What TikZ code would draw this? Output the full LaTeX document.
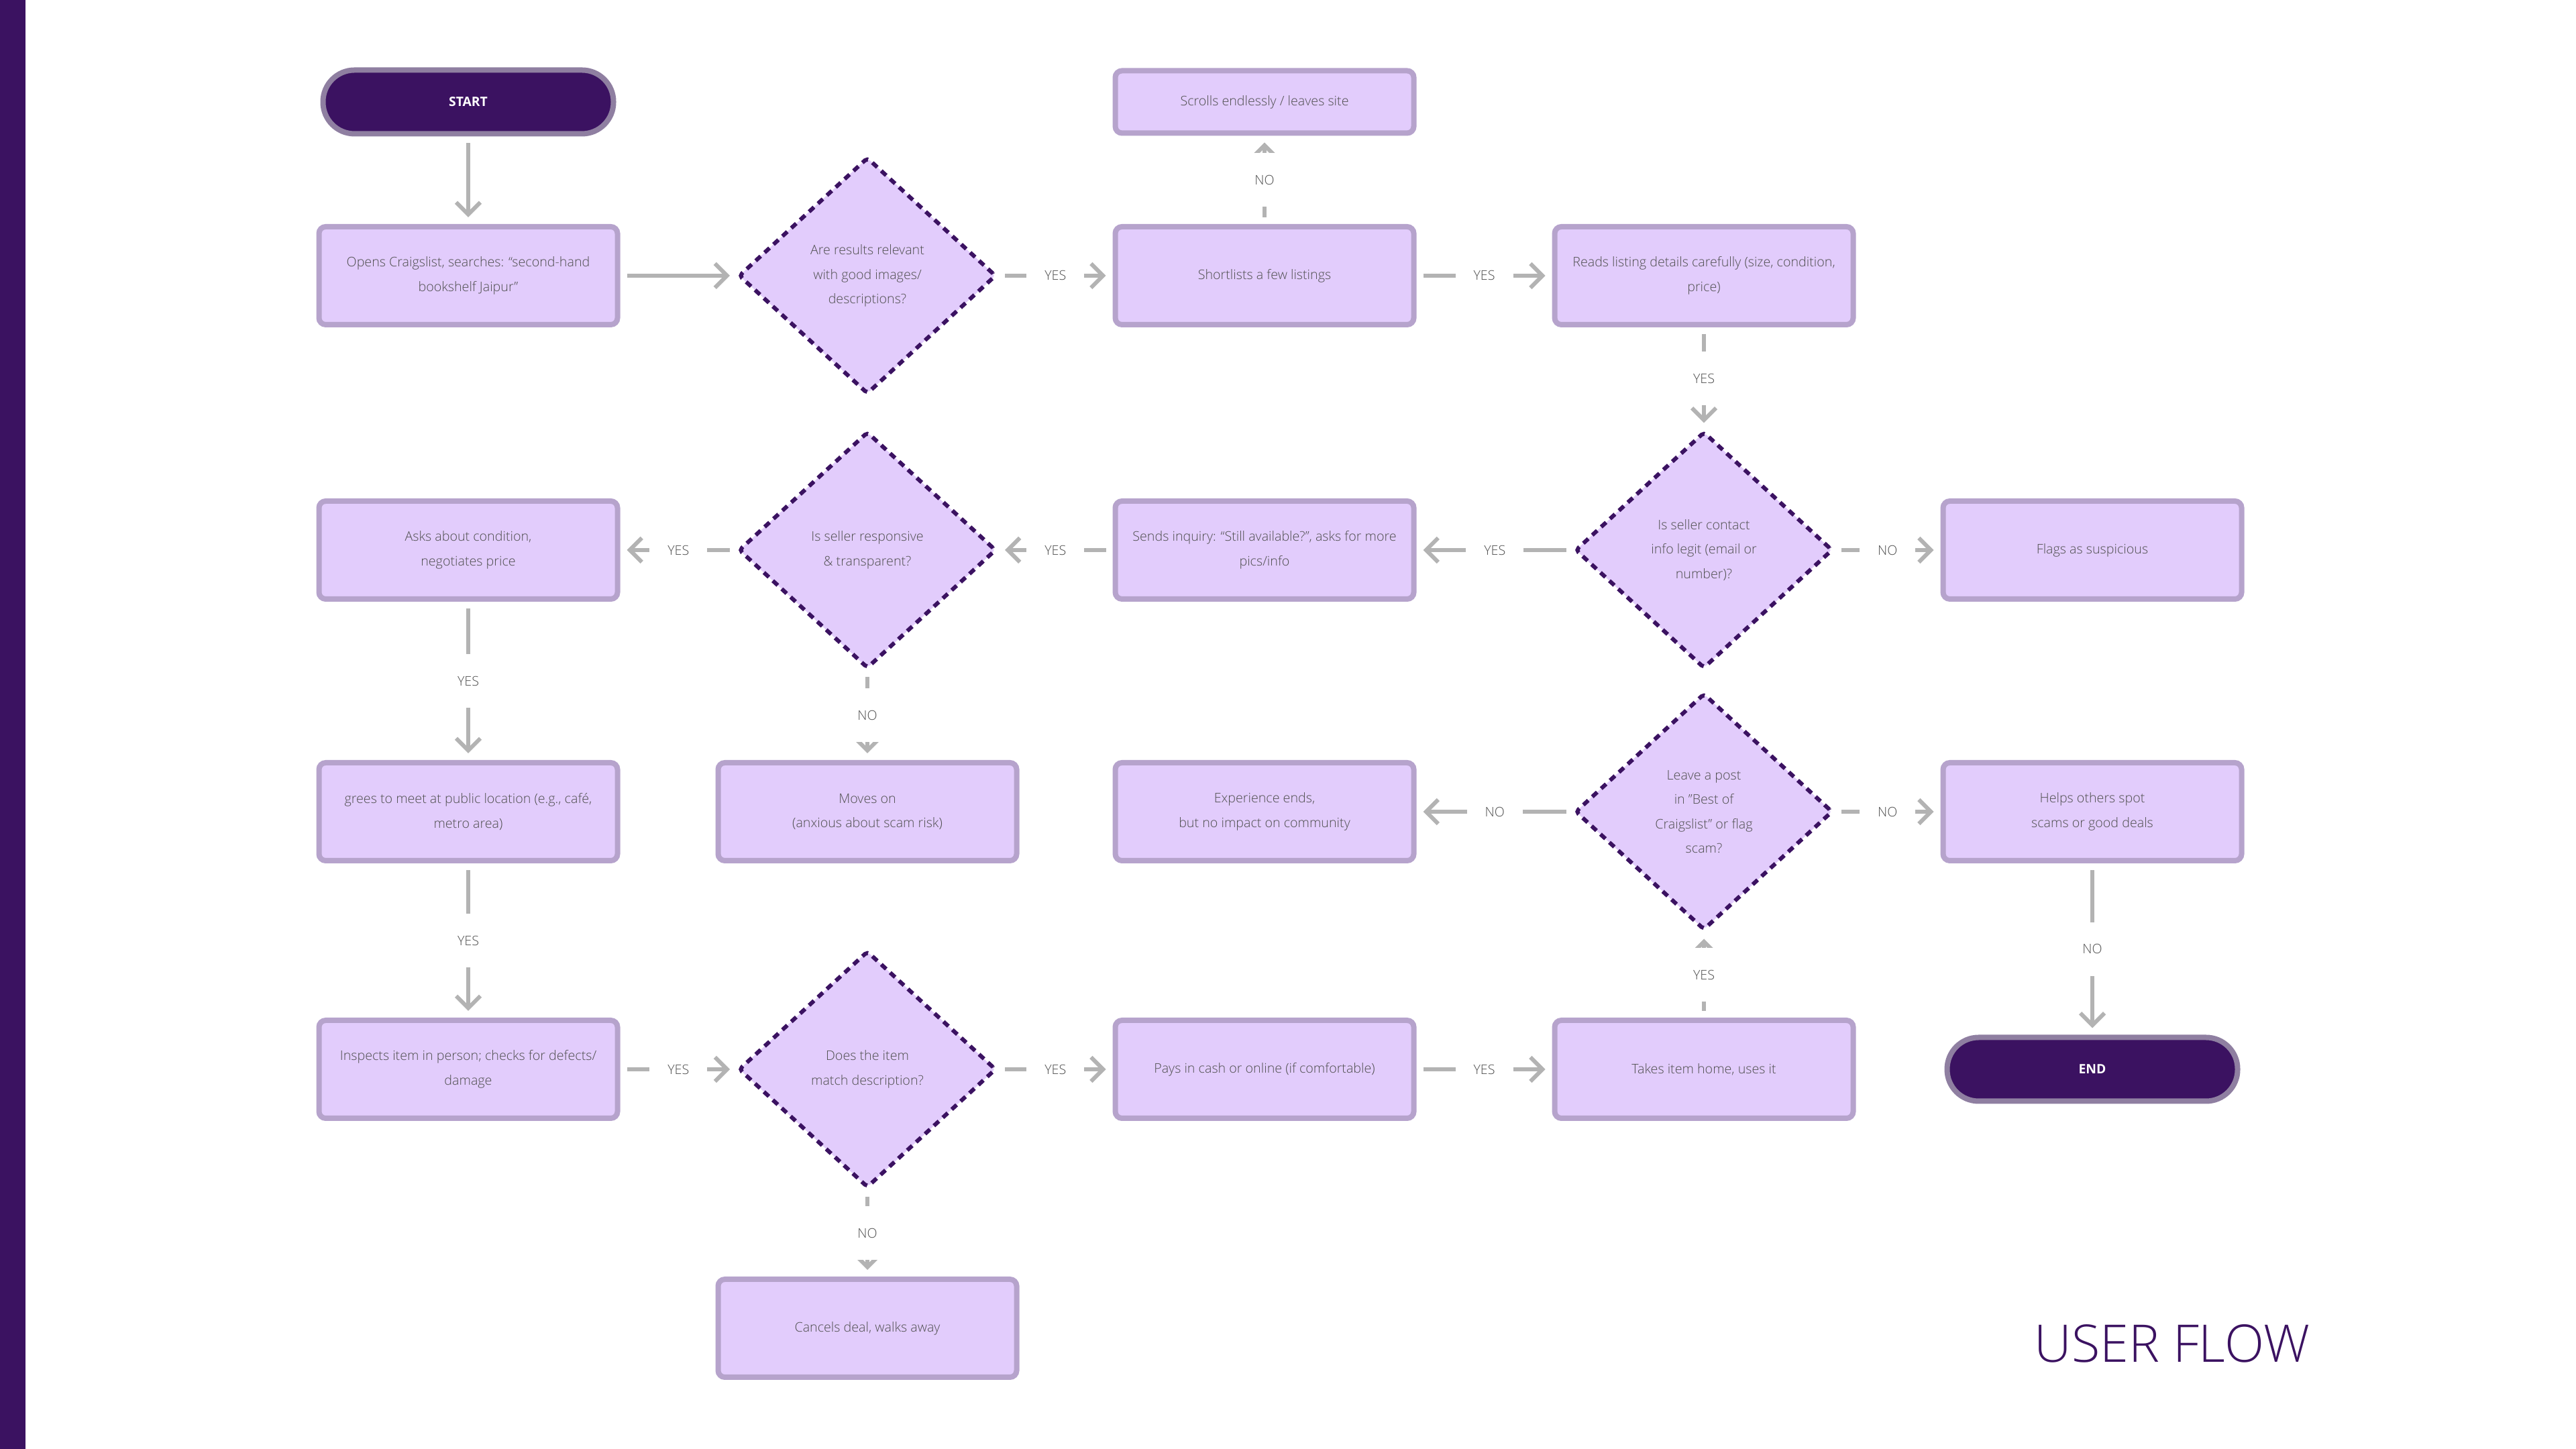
\documentclass[tikz,border=0pt]{standalone}
\usepackage{fontspec}
\IfFontExistsTF{Open Sans Light}
  {\setmainfont{Open Sans Light}[BoldFont={Open Sans Bold}]}
  {\setmainfont{Open Sans}}
\usepackage{tikz}
\usetikzlibrary{shapes.geometric,arrows.meta,positioning}
\definecolor{deeppurple}{HTML}{3B1261}
\definecolor{lavender}{HTML}{E2CCFC}
\definecolor{boxedge}{HTML}{B6A3CC}
\definecolor{termedge}{HTML}{8F7FA1}
\definecolor{arrowgray}{HTML}{B3B3B3}
\definecolor{inkgray}{HTML}{505050}
\newcommand{\flowfont}{\fontsize{5.6}{10.4}\selectfont}
\tikzset{
  >={Straight Barb[length=1.8mm,width=3.6mm]},
  stepbox/.style={draw=boxedge, fill=lavender, line width=0.8mm, rounded corners=1mm,
    minimum width=44.5mm, minimum height=14.6mm, inner sep=1mm,
    align=center, text=inkgray, font=\flowfont},
  terminal/.style={draw=termedge, fill=deeppurple, line width=0.8mm, rounded corners=4.7mm,
    minimum width=43.3mm, minimum height=9.5mm, text=white,
    font=\fontsize{5.5}{6}\selectfont\bfseries},
  decision/.style={diamond, draw=deeppurple, fill=lavender, line width=0.6mm,
    dash pattern=on 1mm off 0.8mm, rounded corners=0.5mm,
    preaction={draw=white, solid, line width=0.6mm},
    minimum width=38.4mm, minimum height=35.3mm, inner sep=0pt,
    align=center, text=inkgray, font=\flowfont},
  flow/.style={draw=arrowgray, line width=0.6mm, ->, shorten <=1mm, shorten >=1mm},
  answer/.style={fill=white, text=inkgray, font=\flowfont, inner xsep=2.7mm, inner ysep=3.3mm},
}

\begin{document}
\begin{tikzpicture}
\useasboundingbox (0,0) rectangle (38.4,21.6);
\fill[deeppurple] (0,0) rectangle (0.38,21.6);

% top rows
\node[terminal] (start) at (6.98,20.08) {START};
\node[stepbox, minimum height=9.3mm] (scrolls) at (18.85,20.08) {Scrolls endlessly / leaves site};
\node[stepbox] (opens) at (6.98,17.49) {Opens Craigslist, searches: “second-hand\\bookshelf Jaipur”};
\node[decision] (relevant) at (12.93,17.49) {Are results relevant\\with good images/\\descriptions?};
\node[stepbox] (shortlist) at (18.85,17.49) {Shortlists a few listings};
\node[stepbox] (reads) at (25.40,17.49) {Reads listing details carefully (size, condition,\\price)};

% contact row
\node[stepbox] (asks) at (6.98,13.40) {Asks about condition,\\negotiates price};
\node[decision] (responsive) at (12.93,13.40) {Is seller responsive\\\& transparent?};
\node[stepbox] (sends) at (18.85,13.40) {Sends inquiry: “Still available?”, asks for more\\pics/info};
\node[decision] (legit) at (25.40,13.40) {Is seller contact\\info legit (email or\\number)?};
\node[stepbox] (flags) at (31.19,13.40) {Flags as suspicious};

% meeting row
\node[stepbox] (agrees) at (6.98,9.50) {grees to meet at public location (e.g., café,\\metro area)};
\node[stepbox] (moves) at (12.93,9.50) {Moves on\\(anxious about scam risk)};
\node[stepbox] (experience) at (18.85,9.50) {Experience ends,\\but no impact on community};
\node[decision] (post) at (25.40,9.50) {Leave a post\\in "Best of\\Craigslist" or flag\\scam?};
\node[stepbox] (helps) at (31.19,9.50) {Helps others spot\\scams or good deals};

% deal rows
\node[stepbox] (inspects) at (6.98,5.66) {Inspects item in person; checks for defects/\\damage};
\node[decision] (match) at (12.93,5.66) {Does the item\\match description?};
\node[stepbox] (pays) at (18.85,5.66) {Pays in cash or online (if comfortable)};
\node[stepbox] (takes) at (25.40,5.66) {Takes item home, uses it};
\node[terminal] (stop) at (31.19,5.66) {END};
\node[stepbox] (cancels) at (12.93,1.80) {Cancels deal, walks away};

\node[font=\fontsize{22}{26}\selectfont, text=deeppurple] (title) at (32.38,1.57) {USER FLOW};

\path[flow]
(start) edge (opens)
(opens) edge (relevant)
(relevant) edge node[answer]{YES} (shortlist)
(shortlist) edge node[answer]{NO} (scrolls)
(shortlist) edge node[answer]{YES} (reads)
(reads) edge node[answer]{YES} (legit)
(legit) edge node[answer]{YES} (sends)
(legit) edge node[answer]{NO} (flags)
(sends) edge node[answer]{YES} (responsive)
(responsive) edge node[answer]{YES} (asks)
(responsive) edge node[answer]{NO} (moves)
(asks) edge node[answer]{YES} (agrees)
(agrees) edge node[answer]{YES} (inspects)
(inspects) edge node[answer]{YES} (match)
(match) edge node[answer]{YES} (pays)
(match) edge node[answer]{NO} (cancels)
(pays) edge node[answer]{YES} (takes)
(takes) edge node[answer]{YES} (post)
(post) edge node[answer]{NO} (experience)
(post) edge node[answer]{NO} (helps)
(helps) edge node[answer]{NO} (stop);
\end{tikzpicture}
\end{document}
